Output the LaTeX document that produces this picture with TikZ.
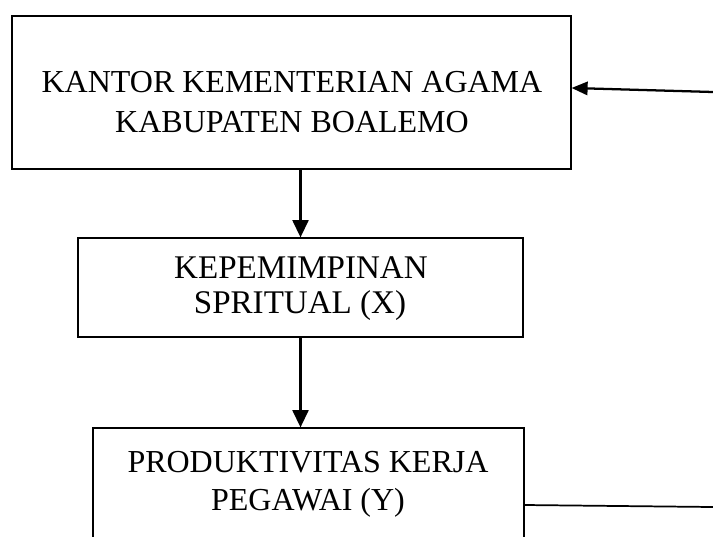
\documentclass[tikz,border=0pt]{standalone}
\usepackage{fontspec}
\setmainfont{Liberation Serif}
\usetikzlibrary{arrows.meta}
\begin{document}
\begin{tikzpicture}[x=0.75pt,y=-0.75pt,
  box/.style={draw=black, line width=0.9pt, rectangle, inner sep=0pt},
  txt/.style={anchor=base, inner sep=0pt, font=\fontsize{24}{30}\selectfont},
  txtm/.style={anchor=base, inner sep=0pt, font=\fontsize{24.8}{30}\selectfont},
  arr/.style={line width=1.7pt, -{Triangle[length=13pt,width=12pt]}},
  arrh/.style={line width=1.7pt, -{Triangle[length=12pt,width=10pt]}},
  ln/.style={line width=1.3pt}]
\useasboundingbox (0,0) rectangle (713,536);
\clip (0,0) rectangle (713,536);
\fill[white] (0,0) rectangle (713,536);
% boxes
\node[box, minimum width=419.25pt, minimum height=114.75pt] (kantor) at (291.5,92.5) {};
\node[box, minimum width=333.75pt, minimum height=74.25pt] (mid) at (300.5,287.5) {};
\node[box, minimum width=323.25pt, minimum height=99pt] (prod) at (308.5,494) {};
% texts
\node[txt] (k1) at (292,92) {KANTOR KEMENTERIAN AGAMA};
\node[txt] (k2) at (292,132) {KABUPATEN BOALEMO};
\node[txtm] (m1) at (301,278) {KEPEMIMPINAN};
\node[txtm] (m2) at (300,313) {SPRITUAL (X)};
\node[txt] (p1) at (308,472) {PRODUKTIVITAS KERJA};
\node[txt] (p2) at (308,510) {PEGAWAI (Y)};
% connectors
\coordinate (r1) at (713,92);
\coordinate (r2) at (713,507);
\draw[arr] (kantor.south -| mid.north) -- (mid.north);
\draw[arr] (mid.south) -- (mid.south |- prod.north);
\draw[arrh] (r1) -- ([yshift=3.4pt]kantor.east);
\draw[ln] ([yshift=-8.25pt]prod.east) -- (r2);
\end{tikzpicture}
\end{document}
